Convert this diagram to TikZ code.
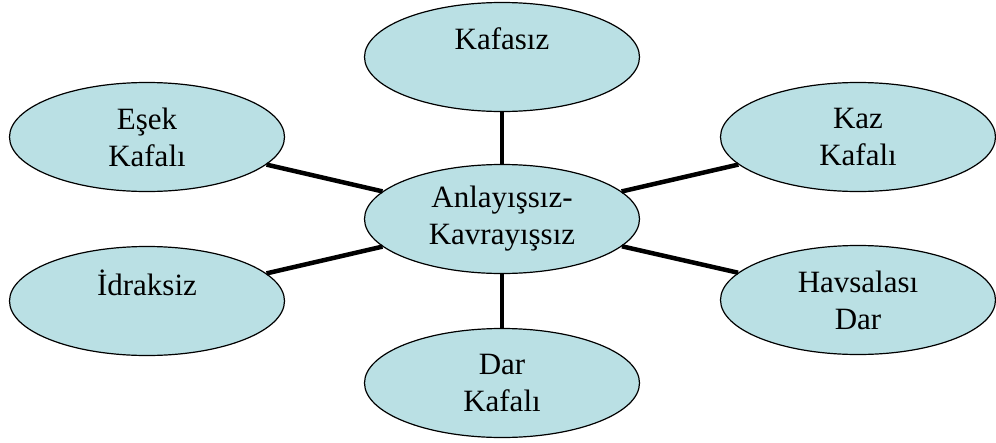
\documentclass[tikz,border=0pt]{standalone}
\usepackage{fontspec}
\setmainfont{Liberation Serif}
\usepackage{tikz}
\usetikzlibrary{shapes.geometric,positioning}
\definecolor{lightcyan}{RGB}{186,224,228}

\tikzset{
  idea/.style={ellipse, draw=black, line width=1.2pt, fill=lightcyan,
    minimum width=275pt, minimum height=109pt, inner sep=0pt,
    align=center, font=\fontsize{31}{37}\selectfont},
  link/.style={line width=4.5pt}
}

\begin{document}
\begin{tikzpicture}[x=1pt,y=-1pt]
  \useasboundingbox (0,0) rectangle (996,442);
  % middle ellipse
  \node[idea] (merkez) at (502,219) {Anlayışsız-\\Kavrayışsız};
  % outer ellipses
  \node[idea] (kafasiz) at (502,57) {Kafasız\\~};
  \node[idea] (esek) at (147,137) {Eşek\\Kafalı};
  \node[idea] (kaz) at (858,137) {Kaz\\Kafalı};
  \node[idea] (idraksiz) at (147,301) {İdraksiz\\~};
  \node[idea] (havsala) at (858,300) {Havsalası\\Dar};
  \node[idea] (dar) at (502,383) {Dar\\Kafalı};
  % links
  \foreach \n in {kafasiz,esek,kaz,idraksiz,havsala,dar}
    \draw[link] (merkez) -- (\n);
\end{tikzpicture}
\end{document}
